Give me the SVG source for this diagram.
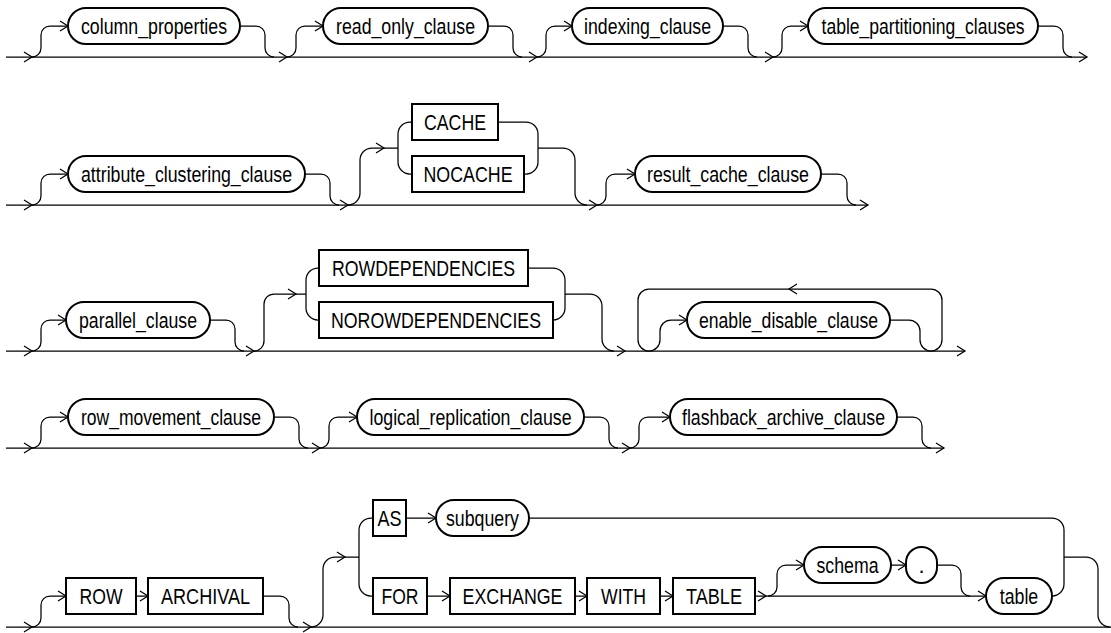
<svg xmlns="http://www.w3.org/2000/svg" xmlns:xlink="http://www.w3.org/1999/xlink" width="1111" height="633" viewBox="0 0 1111 633">
<style>
.c{fill:none;stroke:#000;stroke-width:1.25}
.n rect{fill:#fff;stroke:#000;stroke-width:2}
.n text{font-family:'Liberation Sans Narrow','Liberation Sans',Arial,sans-serif;font-size:22px;text-anchor:middle;fill:#000}
</style>
<defs>
<path id="ar" d="M-8,-5 L0,0 L-8,5" class="c"/>
<path id="al" d="M8,-5 L0,0 L8,5" class="c"/>
</defs>
<rect width="1111" height="633" fill="#fff"/>
<g id="connectors">
<path class="c" d="M6,57 H1087"/>
<path class="c" d="M32,57 A9,9 0 0 0 41,48 V35 A9,9 0 0 1 50,26 H68 M240,26 H256 A9,9 0 0 1 265,35 V48 A9,9 0 0 0 274,57"/>
<path class="c" d="M287,57 A9,9 0 0 0 296,48 V35 A9,9 0 0 1 305,26 H323 M488,26 H504 A9,9 0 0 1 513,35 V48 A9,9 0 0 0 522,57"/>
<path class="c" d="M537,57 A9,9 0 0 0 546,48 V35 A9,9 0 0 1 555,26 H572 M723,26 H739 A9,9 0 0 1 748,35 V48 A9,9 0 0 0 757,57"/>
<path class="c" d="M773,57 A9,9 0 0 0 782,48 V35 A9,9 0 0 1 791,26 H808 M1038,26 H1054 A9,9 0 0 1 1063,35 V48 A9,9 0 0 0 1072,57"/>
<use href="#ar" x="32" y="57"/><use href="#ar" x="287" y="57"/><use href="#ar" x="537" y="57"/><use href="#ar" x="773" y="57"/><use href="#ar" x="1087" y="57"/>
<use href="#ar" x="68" y="26"/><use href="#ar" x="323" y="26"/><use href="#ar" x="572" y="26"/><use href="#ar" x="808" y="26"/>
<path class="c" d="M6,205 H868"/>
<path class="c" d="M32,205 A9,9 0 0 0 41,196 V183 A9,9 0 0 1 50,174 H68 M305,174 H321 A9,9 0 0 1 330,183 V196 A9,9 0 0 0 339,205"/>
<path class="c" d="M348,205 A12,12 0 0 0 360,193 V160 A12,12 0 0 1 372,148 H398 V134 A12,12 0 0 1 410,122 H412 M398,148 V162 A12,12 0 0 0 410,174 H412"/>
<path class="c" d="M498,122 H526 A12,12 0 0 1 538,134 V162 A12,12 0 0 1 526,174 H524 M538,148 H563 A12,12 0 0 1 575,160 V193 A12,12 0 0 0 587,205"/>
<path class="c" d="M597,205 A9,9 0 0 0 606,196 V183 A9,9 0 0 1 615,174 H635 M821,174 H838 A9,9 0 0 1 847,183 V196 A9,9 0 0 0 856,205"/>
<use href="#ar" x="32" y="205"/><use href="#ar" x="348" y="205"/><use href="#ar" x="597" y="205"/><use href="#ar" x="868" y="205"/>
<use href="#ar" x="68" y="174"/><use href="#ar" x="384" y="148"/><use href="#ar" x="635" y="174"/>
<path class="c" d="M6,351 H965"/>
<path class="c" d="M32,351 A9,9 0 0 0 41,342 V329 A9,9 0 0 1 50,320 H66 M210,320 H226 A9,9 0 0 1 235,329 V342 A9,9 0 0 0 244,351"/>
<path class="c" d="M254,351 A10,10 0 0 0 264,341 V304 A10,10 0 0 1 274,294 H306 V280 A12,12 0 0 1 318,268 H319 M306,294 V308 A12,12 0 0 0 318,320 H319"/>
<path class="c" d="M528,268 H553 A12,12 0 0 1 565,280 V308 A12,12 0 0 1 553,320 M565,294 H590 A12,12 0 0 1 602,306 V339 A12,12 0 0 0 614,351"/>
<path class="c" d="M649,351 A11,11 0 0 1 638,340 V300 A11,11 0 0 1 649,289 H931 A11,11 0 0 1 942,300 V340 A11,11 0 0 1 931,351"/>
<path class="c" d="M649,351 A11,11 0 0 0 660,340 V331 A11,11 0 0 1 671,320 H687 M890,320 H909 A11,11 0 0 1 920,331 V340 A11,11 0 0 0 931,351"/>
<use href="#ar" x="32" y="351"/><use href="#ar" x="254" y="351"/><use href="#ar" x="625" y="351"/><use href="#ar" x="965" y="351"/>
<use href="#ar" x="66" y="320"/><use href="#ar" x="296" y="294"/><use href="#ar" x="687" y="320"/><use href="#al" x="789" y="289"/>
<path class="c" d="M6,448 H944"/>
<path class="c" d="M32,448 A9,9 0 0 0 41,439 V426 A9,9 0 0 1 50,417 H68 M274,417 H290 A9,9 0 0 1 299,426 V439 A9,9 0 0 0 308,448"/>
<path class="c" d="M320,448 A9,9 0 0 0 329,439 V426 A9,9 0 0 1 338,417 H357 M584,417 H600 A9,9 0 0 1 609,426 V439 A9,9 0 0 0 618,448"/>
<path class="c" d="M630,448 A9,9 0 0 0 639,439 V426 A9,9 0 0 1 648,417 H670 M897,417 H913 A9,9 0 0 1 922,426 V439 A9,9 0 0 0 931,448"/>
<use href="#ar" x="32" y="448"/><use href="#ar" x="320" y="448"/><use href="#ar" x="630" y="448"/><use href="#ar" x="944" y="448"/>
<use href="#ar" x="68" y="417"/><use href="#ar" x="357" y="417"/><use href="#ar" x="670" y="417"/>
<path class="c" d="M6,627 H1111"/>
<path class="c" d="M32,627 A9,9 0 0 0 41,618 V605 A9,9 0 0 1 50,596 H66 M136,596 H148 M263,596 H280 A9,9 0 0 1 289,605 V618 A9,9 0 0 0 298,627"/>
<path class="c" d="M311,627 A12,12 0 0 0 323,615 V569 A12,12 0 0 1 335,557 H359 V530 A12,12 0 0 1 371,518 H373 M359,557 V584 A12,12 0 0 0 371,596 H373"/>
<path class="c" d="M406,518 H436 M529,518 H1052 A12,12 0 0 1 1064,530 V584 A12,12 0 0 1 1052,596 M1064,557 H1086 A12,12 0 0 1 1098,569 V615 A12,12 0 0 0 1110,627"/>
<path class="c" d="M427,596 H450 M575,596 H587 M660,596 H673 M755,596 H986"/>
<path class="c" d="M768,596 A9,9 0 0 0 777,587 V574 A9,9 0 0 1 786,565 H804 M891,565 H906 M937,565 H952 A9,9 0 0 1 961,574 V587 A9,9 0 0 0 970,596"/>
<use href="#ar" x="32" y="627"/><use href="#ar" x="311" y="627"/>
<use href="#ar" x="66" y="596"/><use href="#ar" x="148" y="596"/><use href="#ar" x="345" y="557"/><use href="#ar" x="436" y="518"/>
<use href="#ar" x="450" y="596"/><use href="#ar" x="587" y="596"/><use href="#ar" x="673" y="596"/><use href="#ar" x="766" y="596"/>
<use href="#ar" x="804" y="565"/><use href="#ar" x="906" y="565"/><use href="#ar" x="986" y="596"/>
</g>
<g id="column_properties" class="n"><rect x="68" y="8" width="172" height="36" rx="18"/><text x="154" y="33.5" textLength="146" lengthAdjust="spacingAndGlyphs">column_properties</text></g>
<g id="read_only_clause" class="n"><rect x="323" y="8" width="165" height="36" rx="18"/><text x="405.5" y="33.5" textLength="139" lengthAdjust="spacingAndGlyphs">read_only_clause</text></g>
<g id="indexing_clause" class="n"><rect x="572" y="8" width="151" height="36" rx="18"/><text x="647.5" y="33.5" textLength="127" lengthAdjust="spacingAndGlyphs">indexing_clause</text></g>
<g id="table_partitioning_clauses" class="n"><rect x="808" y="8" width="230" height="36" rx="18"/><text x="923" y="33.5" textLength="203" lengthAdjust="spacingAndGlyphs">table_partitioning_clauses</text></g>
<g id="attribute_clustering_clause" class="n"><rect x="68" y="156" width="237" height="36" rx="18"/><text x="186.5" y="181.5" textLength="211" lengthAdjust="spacingAndGlyphs">attribute_clustering_clause</text></g>
<g id="kw_cache" class="n"><rect x="412" y="104" width="86" height="36"/><text x="455" y="129.5" textLength="62" lengthAdjust="spacingAndGlyphs">CACHE</text></g>
<g id="kw_nocache" class="n"><rect x="412" y="156" width="112" height="36"/><text x="468" y="181.5" textLength="89" lengthAdjust="spacingAndGlyphs">NOCACHE</text></g>
<g id="result_cache_clause" class="n"><rect x="635" y="156" width="186" height="36" rx="18"/><text x="728" y="181.5" textLength="162" lengthAdjust="spacingAndGlyphs">result_cache_clause</text></g>
<g id="parallel_clause" class="n"><rect x="66" y="302" width="144" height="36" rx="18"/><text x="138" y="327.5" textLength="118" lengthAdjust="spacingAndGlyphs">parallel_clause</text></g>
<g id="kw_rowdependencies" class="n"><rect x="319" y="250" width="209" height="36"/><text x="423.5" y="275.5" textLength="183" lengthAdjust="spacingAndGlyphs">ROWDEPENDENCIES</text></g>
<g id="kw_norowdependencies" class="n"><rect x="319" y="302" width="234" height="36"/><text x="436" y="327.5" textLength="210" lengthAdjust="spacingAndGlyphs">NOROWDEPENDENCIES</text></g>
<g id="enable_disable_clause" class="n"><rect x="687" y="302" width="203" height="36" rx="18"/><text x="788.5" y="327.5" textLength="179" lengthAdjust="spacingAndGlyphs">enable_disable_clause</text></g>
<g id="row_movement_clause" class="n"><rect x="68" y="399" width="206" height="36" rx="18"/><text x="171" y="424.5" textLength="180" lengthAdjust="spacingAndGlyphs">row_movement_clause</text></g>
<g id="logical_replication_clause" class="n"><rect x="357" y="399" width="227" height="36" rx="18"/><text x="470.5" y="424.5" textLength="202" lengthAdjust="spacingAndGlyphs">logical_replication_clause</text></g>
<g id="flashback_archive_clause" class="n"><rect x="670" y="399" width="227" height="36" rx="18"/><text x="783.5" y="424.5" textLength="203" lengthAdjust="spacingAndGlyphs">flashback_archive_clause</text></g>
<g id="kw_row" class="n"><rect x="66" y="578" width="70" height="36"/><text x="101" y="603.5" textLength="43" lengthAdjust="spacingAndGlyphs">ROW</text></g>
<g id="kw_archival" class="n"><rect x="148" y="578" width="115" height="36"/><text x="205.5" y="603.5" textLength="89" lengthAdjust="spacingAndGlyphs">ARCHIVAL</text></g>
<g id="kw_as" class="n"><rect x="373" y="500" width="33" height="36"/><text x="389.5" y="525.5" textLength="24" lengthAdjust="spacingAndGlyphs">AS</text></g>
<g id="subquery" class="n"><rect x="436" y="500" width="93" height="36" rx="18"/><text x="482.5" y="525.5" textLength="73" lengthAdjust="spacingAndGlyphs">subquery</text></g>
<g id="kw_for" class="n"><rect x="373" y="578" width="54" height="36"/><text x="400" y="603.5" textLength="37" lengthAdjust="spacingAndGlyphs">FOR</text></g>
<g id="kw_exchange" class="n"><rect x="450" y="578" width="125" height="36"/><text x="512.5" y="603.5" textLength="100" lengthAdjust="spacingAndGlyphs">EXCHANGE</text></g>
<g id="kw_with" class="n"><rect x="587" y="578" width="73" height="36"/><text x="623.5" y="603.5" textLength="45" lengthAdjust="spacingAndGlyphs">WITH</text></g>
<g id="kw_table" class="n"><rect x="673" y="578" width="82" height="36"/><text x="714" y="603.5" textLength="56" lengthAdjust="spacingAndGlyphs">TABLE</text></g>
<g id="schema" class="n"><rect x="804" y="547" width="87" height="36" rx="18"/><text x="847.5" y="572.5" textLength="62" lengthAdjust="spacingAndGlyphs">schema</text></g>
<g id="dot" class="n"><rect x="906" y="547" width="31" height="36" rx="15.5"/><text x="921.5" y="572.5">.</text></g>
<g id="table" class="n"><rect x="986" y="578" width="66" height="36" rx="18"/><text x="1019" y="603.5" textLength="38.5" lengthAdjust="spacingAndGlyphs">table</text></g>
</svg>
